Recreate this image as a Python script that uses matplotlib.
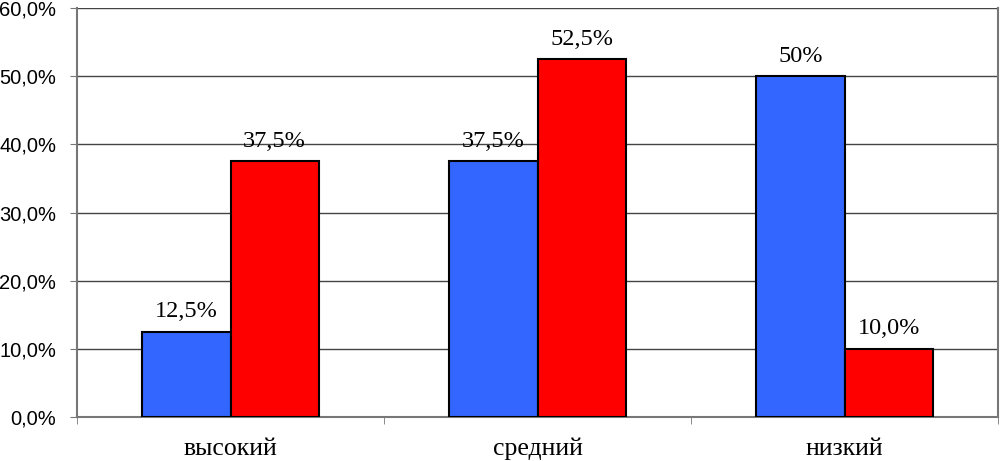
import numpy as np
import matplotlib.pyplot as plt

categories = ['высокий', 'средний', 'низкий']
blue_vals = [12.5, 37.5, 50.0]
red_vals = [37.5, 52.5, 10.0]
blue_labels = ['12,5%', '37,5%', '50%']
red_labels = ['37,5%', '52,5%', '10,0%']
yticks = [0, 10, 20, 30, 40, 50, 60]
ytick_labels = ['0,0%', '10,0%', '20,0%', '30,0%', '40,0%', '50,0%', '60,0%']

fig = plt.figure(figsize=(10, 4.61), dpi=100)
ax = fig.add_axes([0.077, 0.0954, 0.921, 0.887])

x = np.arange(len(categories))
w = 0.287
b1 = ax.bar(x - w / 2, blue_vals, w, color='#3366FF', edgecolor='black', linewidth=1.5, zorder=3)
b2 = ax.bar(x + w / 2, red_vals, w, color='#FF0000', edgecolor='black', linewidth=1.5, zorder=3)

serif = 'Liberation Serif'
for bars, labs in [(b1, blue_labels), (b2, red_labels)]:
    for r, lab in zip(bars, labs):
        ax.annotate(lab, (r.get_x() + r.get_width() / 2, r.get_height()),
                    xytext=(0, 7), textcoords='offset points', ha='center', va='bottom',
                    fontsize=17.5, family=serif)

ax.set_xlim(-0.5, 2.5)
ax.set_ylim(0, 60)
ax.set_yticks(yticks)
ax.set_yticklabels(ytick_labels, family='Liberation Sans', fontsize=14.5)
ax.yaxis.grid(True, color='#444444', linewidth=1, zorder=0)
ax.set_axisbelow(True)

ax.set_xticks(x)
ax.set_xticklabels(categories, family=serif, fontsize=18.5)
ax.tick_params(axis='x', length=0, pad=15)
ax.set_xticks([-0.5, 0.5, 1.5, 2.5], minor=True)
ax.tick_params(axis='x', which='minor', length=5, color='#777777')
ax.tick_params(axis='y', length=5, color='#777777', pad=10)

for s in ['left', 'bottom', 'right', 'top']:
    ax.spines[s].set_color('#777777')
    ax.spines[s].set_linewidth(1.5)
ax.spines['top'].set_visible(False)

fig.savefig('out.png', dpi=100)
